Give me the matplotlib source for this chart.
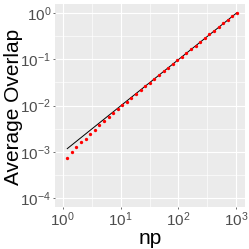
import numpy as np
import matplotlib
matplotlib.use('Agg')
import matplotlib.pyplot as plt
from matplotlib.ticker import FixedLocator, NullFormatter

plt.rcParams['font.family'] = ['Liberation Sans', 'DejaVu Sans']
plt.rcParams['mathtext.default'] = 'regular'

# data
np_vals = [1.2, 1.44, 1.728, 2.074, 2.488, 2.986, 3.583, 4.300, 5.160, 6.192,
           7.430, 8.916, 10.70, 12.84, 15.41, 18.49, 22.19, 26.62, 31.95, 38.34,
           46.01, 55.21, 66.25, 79.50, 95.40, 114.5, 137.4, 164.8, 197.8, 237.4,
           284.9, 341.8, 410.2, 492.2, 590.7, 708.8, 850.6, 1020.7]
overlap = [0.00074, 0.00099, 0.00127, 0.00160, 0.00192, 0.00240, 0.00302, 0.00372,
           0.00454, 0.00557, 0.00684, 0.00829, 0.01006, 0.0122, 0.0148, 0.0179,
           0.0215, 0.0261, 0.0313, 0.0378, 0.0455, 0.0547, 0.0657, 0.0790, 0.0949,
           0.114, 0.137, 0.164, 0.197, 0.237, 0.284, 0.341, 0.410, 0.491, 0.589,
           0.707, 0.848, 1.0]
line_x = [1.2, 1020.7]
line_y = [0.00118, 1.0]

x_ticks = [1, 10, 100, 1000]
x_labels = ['$10^{0}$', '$10^{1}$', '$10^{2}$', '$10^{3}$']
y_ticks = [1e-4, 1e-3, 1e-2, 1e-1, 1]
y_labels = ['$10^{-4}$', '$10^{-3}$', '$10^{-2}$', '$10^{-1}$', '$10^{0}$']

fig = plt.figure(figsize=(2.49, 2.49), dpi=100)
ax = fig.add_axes([55/249, 1 - 206.7/249, 190/249, 203.2/249])
ax.set_facecolor('#EBEBEB')

ax.set_xscale('log')
ax.set_yscale('log')
ax.set_xlim(10**-0.133, 10**3.15)
ax.set_ylim(10**-4.18, 10**0.2)

ax.xaxis.set_major_locator(FixedLocator(x_ticks))
ax.xaxis.set_minor_locator(FixedLocator([10**(k + 0.5) for k in range(-1, 4)]))
ax.yaxis.set_major_locator(FixedLocator(y_ticks))
ax.yaxis.set_minor_locator(FixedLocator([10**(k + 0.5) for k in range(-5, 1)]))
ax.xaxis.set_minor_formatter(NullFormatter())
ax.yaxis.set_minor_formatter(NullFormatter())
ax.set_xticklabels(x_labels)
ax.set_yticklabels(y_labels)

ax.grid(which='major', color='white', linewidth=0.85)
ax.grid(which='minor', color='white', linewidth=0.45)
ax.set_axisbelow(True)
for s in ax.spines.values():
    s.set_visible(False)

ax.tick_params(which='major', length=1.6, width=0.5, color='#333333',
               labelsize=11, labelcolor='#4D4D4D', pad=1.2)
ax.tick_params(which='minor', length=0)

ax.plot(line_x, line_y, color='black', linewidth=0.7)
ax.plot(np_vals, overlap, 'o', color='red', markersize=2.4, markeredgewidth=0)

ax.set_xlabel('np', fontsize=15, labelpad=0)
ax.set_ylabel('Average Overlap', fontsize=15)
ax.yaxis.set_label_coords(-0.17, 0.49)

fig.savefig('out.png', dpi=100)
